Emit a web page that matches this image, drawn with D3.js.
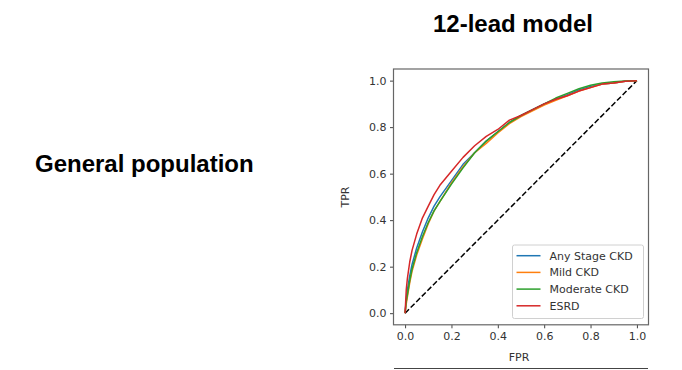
<!doctype html>
<html>
<head>
<meta charset="utf-8">
<style>
  body { margin: 0; background: #fff; }
  #chart { display: block; }
  .tick text { font: 11px "DejaVu Sans", sans-serif; fill: #333; }
  .tick line { stroke: #444; }
  .big { font: bold 24px "Liberation Sans", Arial, sans-serif; fill: #000; }
  .lab { font: 11px "DejaVu Sans", sans-serif; fill: #333; }
</style>
</head>
<body>
<svg id="chart" width="682" height="370"></svg>
<script src="https://d3js.org/d3.v7.min.js"></script>
<script>
var fpr = [0, 0.005, 0.01, 0.02, 0.03, 0.05, 0.075, 0.1, 0.125, 0.15, 0.2, 0.25, 0.3, 0.35, 0.4, 0.45, 0.5, 0.55, 0.6, 0.65, 0.7, 0.75, 0.8, 0.85, 0.9, 0.95, 1];
var tprAny      = [0, 0.06, 0.10, 0.16, 0.21, 0.28, 0.35, 0.41, 0.46, 0.50, 0.57, 0.64, 0.69, 0.74, 0.78, 0.82, 0.85, 0.875, 0.90, 0.92, 0.94, 0.96, 0.975, 0.985, 0.99, 0.997, 1];
var tprMild     = [0, 0.04, 0.07, 0.13, 0.18, 0.25, 0.32, 0.385, 0.44, 0.48, 0.56, 0.63, 0.69, 0.73, 0.775, 0.815, 0.845, 0.87, 0.895, 0.915, 0.935, 0.955, 0.97, 0.985, 0.99, 0.997, 1];
var tprModerate = [0, 0.05, 0.08, 0.14, 0.19, 0.26, 0.33, 0.39, 0.44, 0.48, 0.555, 0.625, 0.69, 0.74, 0.78, 0.82, 0.85, 0.875, 0.90, 0.925, 0.945, 0.965, 0.98, 0.99, 0.995, 0.998, 1];
var tprEsrd     = [0, 0.10, 0.15, 0.22, 0.27, 0.34, 0.41, 0.46, 0.51, 0.55, 0.61, 0.67, 0.72, 0.76, 0.79, 0.83, 0.85, 0.875, 0.90, 0.92, 0.935, 0.955, 0.97, 0.985, 0.99, 0.997, 1];
var seriesNames = ["Any Stage CKD", "Mild CKD", "Moderate CKD", "ESRD"];
var seriesColors = ["#1f77b4", "#ff7f0e", "#2ca02c", "#d62728"];
var ticks = [0, 0.2, 0.4, 0.6, 0.8, 1.0];

var series = [tprAny, tprMild, tprModerate, tprEsrd];

var svg = d3.select("#chart");

// titles
svg.append("text").attr("class", "big")
    .attr("x", 513).attr("y", 32).attr("text-anchor", "middle")
    .text("12-lead model");
svg.append("text").attr("class", "big")
    .attr("x", 35).attr("y", 172)
    .text("General population");

var x = d3.scaleLinear().domain([-0.05, 1.05]).range([393.5, 648.5]);
var y = d3.scaleLinear().domain([-0.05, 1.05]).range([324.8, 69]);

var xAxis = d3.axisBottom(x).tickValues(ticks).tickFormat(d3.format(".1f")).tickSize(3.5).tickPadding(3.5);
var yAxis = d3.axisLeft(y).tickValues(ticks).tickFormat(d3.format(".1f")).tickSize(3.5).tickPadding(3.5);

svg.append("g").attr("transform", "translate(0,324.8)").call(xAxis)
    .call(function(g) { g.select(".domain").remove(); });
svg.append("g").attr("transform", "translate(393.5,0)").call(yAxis)
    .call(function(g) { g.select(".domain").remove(); });

// diagonal
svg.append("line")
    .attr("x1", x(0)).attr("y1", y(0)).attr("x2", x(1)).attr("y2", y(1))
    .attr("stroke", "#000").attr("stroke-width", 1.5)
    .attr("stroke-dasharray", "5.5,2.4");

var line = d3.line()
    .x(function(d, i) { return x(fpr[i]); })
    .y(function(d) { return y(d); });

// draw in order so ESRD ends up on top
series.forEach(function(s, k) {
  svg.append("path")
    .attr("d", line(s))
    .attr("fill", "none")
    .attr("stroke", seriesColors[k])
    .attr("stroke-width", 1.5)
    .attr("stroke-linejoin", "round");
});

// frame
svg.append("rect")
    .attr("x", 393.5).attr("y", 69)
    .attr("width", 255).attr("height", 255.8)
    .attr("fill", "none").attr("stroke", "#666").attr("stroke-width", 1.2);

// axis labels
svg.append("text").attr("class", "lab")
    .attr("x", 519).attr("y", 361).attr("text-anchor", "middle")
    .text("FPR");
svg.append("text").attr("class", "lab")
    .attr("transform", "translate(349,197) rotate(-90)")
    .attr("text-anchor", "middle")
    .text("TPR");

// legend
var leg = svg.append("g").attr("transform", "translate(512.5,245)");
leg.append("rect")
    .attr("width", 131).attr("height", 73.5).attr("rx", 2)
    .attr("fill", "#fff").attr("fill-opacity", 0.8)
    .attr("stroke", "#d0d0d0");
var item = leg.selectAll("g.item")
    .data(seriesNames)
    .enter().append("g")
    .attr("class", "item")
    .attr("transform", function(d, i) { return "translate(0," + (10.7 + i * 16.7) + ")"; });
item.append("line")
    .attr("x1", 4).attr("x2", 28)
    .attr("stroke", function(d, i) { return seriesColors[i]; })
    .attr("stroke-width", 1.5);
item.append("text").attr("class", "lab")
    .attr("x", 37).attr("y", 4)
    .text(function(d) { return d; });

// rule under plot
svg.append("line")
    .attr("x1", 394).attr("x2", 648).attr("y1", 368.5).attr("y2", 368.5)
    .attr("stroke", "#444").attr("stroke-width", 1.2);
</script>
</body>
</html>
